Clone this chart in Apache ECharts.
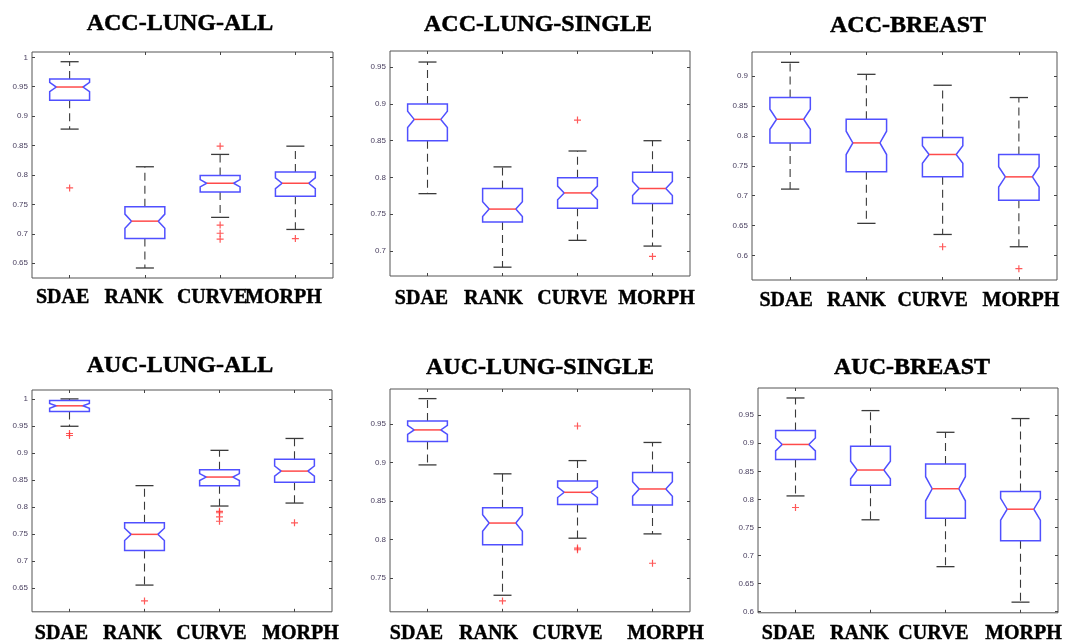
<!DOCTYPE html>
<html><head><meta charset="utf-8">
<script src="https://cdn.jsdelivr.net/npm/echarts@6/dist/echarts.min.js"></script>
<style>html,body{margin:0;padding:0;background:#fff}#c{width:1075px;height:644px}</style>
</head><body><div id="c"></div>
<script>
// ---------------- DATA ----------------
const methods = ['SDAE', 'RANK', 'CURVE', 'MORPH'];
const panelTitles = ['ACC-LUNG-ALL', 'ACC-LUNG-SINGLE', 'ACC-BREAST', 'AUC-LUNG-ALL', 'AUC-LUNG-SINGLE', 'AUC-BREAST'];

// five-number summaries per method: [lower whisker, Q1, median, Q3, upper whisker]
const accLungAllBox = [
  [0.878, 0.927, 0.9495, 0.963, 0.9925],
  [0.642, 0.692, 0.7216, 0.746, 0.814],
  [0.728, 0.771, 0.786, 0.799, 0.835],
  [0.7075, 0.764, 0.786, 0.805, 0.849]
];
const accLungAllOutliers = [[0, 0.778], [2, 0.849], [2, 0.715], [2, 0.701], [2, 0.691], [3, 0.692]];
const accLungAllTicks = [0.65, 0.7, 0.75, 0.8, 0.85, 0.9, 0.95, 1];

const accLungSingleBox = [
  [0.778, 0.850, 0.879, 0.900, 0.957],
  [0.678, 0.7395, 0.757, 0.785, 0.8144],
  [0.7145, 0.758, 0.779, 0.7995, 0.836],
  [0.7067, 0.7645, 0.785, 0.807, 0.85]
];
const accLungSingleOutliers = [[2, 0.878], [3, 0.6926]];
const accLungSingleTicks = [0.7, 0.75, 0.8, 0.85, 0.9, 0.95];

const accBreastBox = [
  [0.711, 0.7884, 0.828, 0.8644, 0.9234],
  [0.6536, 0.740, 0.7884, 0.828, 0.9033],
  [0.635, 0.7315, 0.769, 0.7974, 0.885],
  [0.6144, 0.6925, 0.7315, 0.769, 0.8644]
];
const accBreastOutliers = [[2, 0.6144], [3, 0.5776]];
const accBreastTicks = [0.6, 0.65, 0.7, 0.75, 0.8, 0.85, 0.9];

const aucLungAllBox = [
  [0.9493, 0.9768, 0.9872, 0.9969, 1.0],
  [0.655, 0.7191, 0.749, 0.7703, 0.8393],
  [0.8015, 0.8393, 0.8552, 0.8686, 0.9047],
  [0.807, 0.8455, 0.8662, 0.8882, 0.9267]
];
const aucLungAllOutliers = [[0, 0.9359], [0, 0.9322], [1, 0.6256], [2, 0.7917], [2, 0.789], [2, 0.7814], [2, 0.7733], [3, 0.7703]];
const aucLungAllTicks = [0.65, 0.7, 0.75, 0.8, 0.85, 0.9, 0.95, 1];

const aucLungSingleBox = [
  [0.8968, 0.9273, 0.9423, 0.9539, 0.983],
  [0.7273, 0.7929, 0.8212, 0.841, 0.8852],
  [0.8015, 0.8453, 0.8612, 0.8758, 0.9024],
  [0.8071, 0.8448, 0.8655, 0.8869, 0.926]
];
const aucLungSingleOutliers = [[1, 0.72], [2, 0.9474], [2, 0.7886], [2, 0.7865], [3, 0.7689]];
const aucLungSingleTicks = [0.75, 0.8, 0.85, 0.9, 0.95];

const aucBreastBox = [
  [0.8061, 0.8712, 0.8979, 0.9228, 0.9808],
  [0.7635, 0.825, 0.8523, 0.8949, 0.9583],
  [0.6799, 0.7664, 0.8189, 0.8632, 0.9196],
  [0.6166, 0.7261, 0.7824, 0.8138, 0.9441]
];
const aucBreastOutliers = [[0, 0.7854]];
const aucBreastTicks = [0.6, 0.65, 0.7, 0.75, 0.8, 0.85, 0.9, 0.95];

// assumed number of runs per method (used for notch size: median ± 1.57·IQR/√n)
const samplesPerMethod = 50;

// ---------------- LAYOUT ----------------
const panels = [
  { box: accLungAllBox, out: accLungAllOutliers, ticks: accLungAllTicks,
    grid: { left: 32, top: 52, width: 301, height: 226 }, range: [0.625, 1.009],
    title: [180, 23], margin: 10, shifts: [-7, -11, -8, -12] },
  { box: accLungSingleBox, out: accLungSingleOutliers, ticks: accLungSingleTicks,
    grid: { left: 390, top: 51, width: 300, height: 225 }, range: [0.666, 0.972],
    title: [538, 24], margin: 13, shifts: [-6, -9, -5, 4] },
  { box: accBreastBox, out: accBreastOutliers, ticks: accBreastTicks,
    grid: { left: 752, top: 52, width: 305, height: 228 }, range: [0.5587, 0.9407],
    title: [908, 25], margin: 11, shifts: [-4, -10, -10, 2] },
  { box: aucLungAllBox, out: aucLungAllOutliers, ticks: aucLungAllTicks,
    grid: { left: 32, top: 390, width: 300, height: 224 }, range: [0.6055, 1.0165],
    title: [180, 365], margin: 12, shifts: [-8, -12, -8, 6] },
  { box: aucLungSingleBox, out: aucLungSingleOutliers, ticks: aucLungSingleTicks,
    grid: { left: 390, top: 389, width: 300, height: 225 }, range: [0.7058, 0.9955],
    title: [540, 367], margin: 12, shifts: [-11, -14, -10, 13] },
  { box: aucBreastBox, out: aucBreastOutliers, ticks: aucBreastTicks,
    grid: { left: 758, top: 388, width: 300, height: 226 }, range: [0.5976, 0.9986],
    title: [912, 367], margin: 11, shifts: [-7, -11, -12, 3] }
];

const BLUE = '#5050ff', RED = '#ff4a4a', WHISK = '#3a3a3a';

function renderBox(params, api) {
  const x = api.value(0);
  const lo = api.value(1), q1 = api.value(2), med = api.value(3), q3 = api.value(4), hi = api.value(5);
  const band = api.size([1, 0])[0];
  const cx = api.coord([x, med])[0];
  const halfW = band * 0.265, indent = halfW * 0.33, capHalf = band * 0.12;
  const notch = 1.57 * (q3 - q1) / Math.sqrt(samplesPerMethod);
  const y = v => api.coord([x, v])[1];
  const yLo = y(lo), yQ1 = y(q1), yMed = y(med), yQ3 = y(q3), yHi = y(hi);
  const yNHi = y(med + notch), yNLo = y(med - notch);
  const L = cx - halfW, R = cx + halfW;
  const whiskStyle = { stroke: WHISK, lineWidth: 1.1, lineDash: [8, 5] };
  const capStyle = { stroke: WHISK, lineWidth: 1.3 };
  return {
    type: 'group',
    children: [
      { type: 'line', shape: { x1: cx, y1: yQ3, x2: cx, y2: yHi }, style: whiskStyle },
      { type: 'line', shape: { x1: cx, y1: yQ1, x2: cx, y2: yLo }, style: whiskStyle },
      { type: 'line', shape: { x1: cx - capHalf, y1: yHi, x2: cx + capHalf, y2: yHi }, style: capStyle },
      { type: 'line', shape: { x1: cx - capHalf, y1: yLo, x2: cx + capHalf, y2: yLo }, style: capStyle },
      { type: 'polygon', shape: { points: [
          [L, yQ3], [R, yQ3], [R, yNHi], [R - indent, yMed], [R, yNLo], [R, yQ1],
          [L, yQ1], [L, yNLo], [L + indent, yMed], [L, yNHi]
        ] }, style: { fill: 'none', stroke: BLUE, lineWidth: 1.5 } },
      { type: 'line', shape: { x1: L + indent, y1: yMed, x2: R - indent, y2: yMed }, style: { stroke: RED, lineWidth: 1.5 } }
    ]
  };
}

const grids = [], xAxes = [], yAxes = [], series = [], titles = [];
const labelFont = { fontFamily: 'Liberation Serif', fontWeight: 'bold', fontSize: 20, color: '#000',
  textBorderColor: '#000', textBorderWidth: 0.4 };

panels.forEach((p, i) => {
  grids.push(Object.assign({ show: true, borderColor: '#555', borderWidth: 1, backgroundColor: '#fff' }, p.grid));
  const rich = {};
  p.shifts.forEach((s, k) => {
    rich['s' + k] = Object.assign({ padding: s < 0 ? [0, -2 * s, 0, 0] : [0, 0, 0, 2 * s] }, labelFont);
  });
  xAxes.push({
    type: 'category', gridIndex: i, data: methods, position: 'bottom',
    axisLine: { show: false, onZero: false },
    axisTick: { show: true, inside: true, alignWithLabel: true, length: 3, lineStyle: { color: '#444' } },
    axisLabel: Object.assign({ interval: 0, margin: p.margin, rich,
      formatter: (v, idx) => '{s' + idx + '|' + v + '}' }, labelFont),
    splitLine: { show: false }
  });
  xAxes.push({
    type: 'category', gridIndex: i, data: methods, position: 'top',
    axisLine: { show: false, onZero: false },
    axisTick: { show: true, inside: true, alignWithLabel: true, length: 3, lineStyle: { color: '#444' } },
    axisLabel: { show: false }, splitLine: { show: false }
  });
  const yCommon = {
    type: 'value', gridIndex: i, min: p.range[0], max: p.range[1],
    axisLine: { show: false }, splitLine: { show: false }
  };
  yAxes.push(Object.assign({}, yCommon, {
    position: 'left',
    axisTick: { show: true, inside: true, length: 3, customValues: p.ticks, lineStyle: { color: '#444' } },
    axisLabel: { customValues: p.ticks, fontSize: 8, color: '#4a4060', margin: 4, fontFamily: 'Liberation Sans',
      formatter: v => String(+(+v).toFixed(2)) }
  }));
  yAxes.push(Object.assign({}, yCommon, {
    position: 'right',
    axisTick: { show: true, inside: true, length: 3, customValues: p.ticks, lineStyle: { color: '#444' } },
    axisLabel: { show: false }
  }));
  series.push({
    type: 'custom', xAxisIndex: 2 * i, yAxisIndex: 2 * i,
    data: p.box.map((b, k) => [k].concat(b)),
    encode: { x: 0, y: [1, 2, 3, 4, 5] },
    renderItem: renderBox, silent: true
  });
  series.push({
    type: 'scatter', xAxisIndex: 2 * i, yAxisIndex: 2 * i,
    data: p.out,
    symbol: 'path://M-1,-0.17H1V0.17H-1Z M-0.17,-1H0.17V1H-0.17Z',
    symbolSize: 7, itemStyle: { color: '#ff3030' }, silent: true, z: 5
  });
  titles.push({
    text: panelTitles[i], left: p.title[0], top: p.title[1] - 11, textAlign: 'center', padding: 0,
    textStyle: { fontFamily: 'Liberation Serif', fontWeight: 'bold', fontSize: 24, color: '#000',
      textBorderColor: '#000', textBorderWidth: 0.5 }
  });
});

const chart = echarts.init(document.getElementById('c'));
chart.setOption({
  backgroundColor: '#fff',
  animation: false,
  title: titles,
  grid: grids,
  xAxis: xAxes,
  yAxis: yAxes,
  series: series
});
</script>
</body></html>
